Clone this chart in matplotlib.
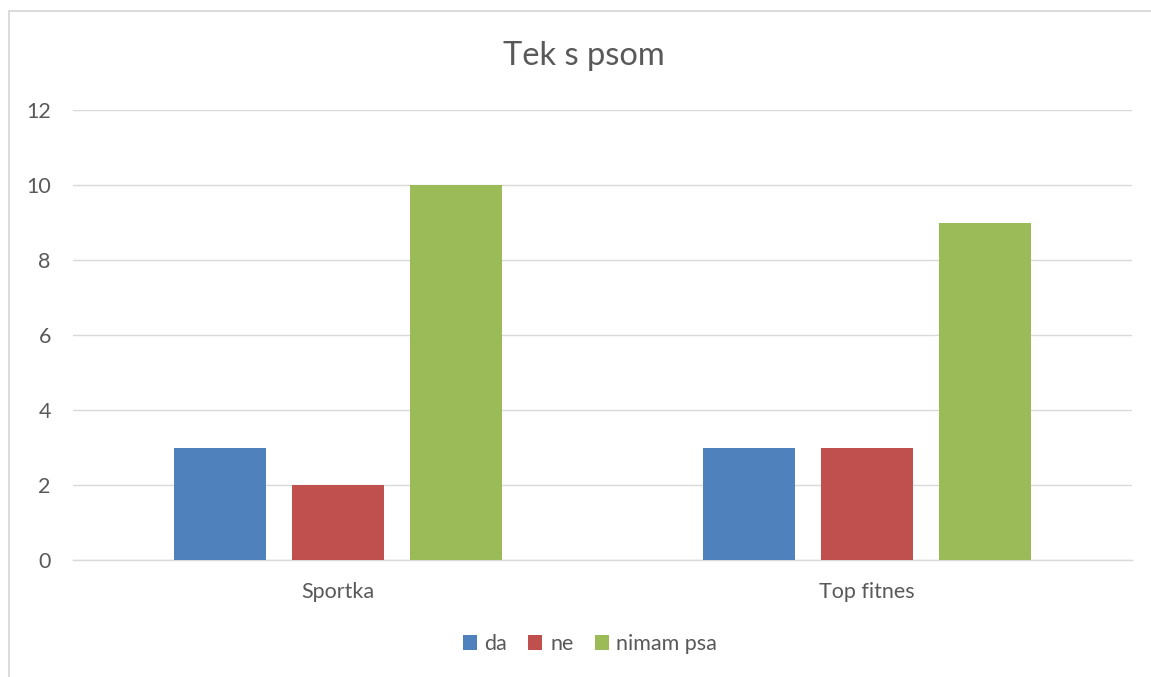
import matplotlib
matplotlib.use("Agg")
import matplotlib.pyplot as plt
from matplotlib.patches import Rectangle
import numpy as np

plt.rcParams['font.family'] = ['Lato', 'DejaVu Sans']

title = "Tek s psom"
categories = ["Sportka", "Top fitnes"]
series_names = ["da", "ne", "nimam psa"]
da = [3, 3]
ne = [2, 3]
nimam_psa = [10, 9]
series_values = [da, ne, nimam_psa]
colors = ["#4F81BD", "#C0504D", "#9BBB59"]
yticks = [0, 2, 4, 6, 8, 10, 12]

W, H = 1151, 677
fig = plt.figure(figsize=(W / 100, H / 100), dpi=100)
fig.patch.set_facecolor("white")

# chart border (cropped on right/bottom)
fig.add_artist(Rectangle((8.5 / W, -0.1), 1.2, (H - 11) / H + 0.1,
                         transform=fig.transFigure, fill=False,
                         edgecolor="#D9D9D9", linewidth=1.3))

ax = fig.add_axes([73 / W, (H - 560) / H, (1132 - 73) / W, (560 - 110) / H])
x = np.arange(len(categories))
spacing = 0.2229
width = 0.174
for i, (name, vals, c) in enumerate(zip(series_names, series_values, colors)):
    ax.bar(x + (i - 1) * spacing, vals, width=width, color=c, label=name, zorder=3)

ax.set_xlim(-0.5, len(categories) - 0.5)
ax.set_ylim(0, 12)
ax.set_yticks(yticks)
ax.set_yticklabels([str(v) for v in yticks])
ax.set_xticks(x)
ax.set_xticklabels(categories)
ax.grid(axis="y", color="#D9D9D9", linewidth=1.0, zorder=0)
for s in ["top", "right", "left"]:
    ax.spines[s].set_visible(False)
ax.spines["bottom"].set_color("#D9D9D9")
ax.spines["bottom"].set_linewidth(1.0)
ax.tick_params(axis="both", length=0, labelsize=15.5, labelcolor="#595959")
ax.tick_params(axis="y", pad=16)
ax.tick_params(axis="x", pad=16)

fig.text(584 / W, (H - 56) / H, title, ha="center", va="center",
         fontsize=23.5, color="#595959")

leg = fig.legend(loc="center", bbox_to_anchor=(590 / W, (H - 644) / H),
                 ncol=3, frameon=False, fontsize=15.5, handlelength=0.65,
                 handleheight=0.65, handletextpad=0.35, columnspacing=1.0,
                 labelcolor="#595959")

fig.savefig("out.png", dpi=100, facecolor="white")
